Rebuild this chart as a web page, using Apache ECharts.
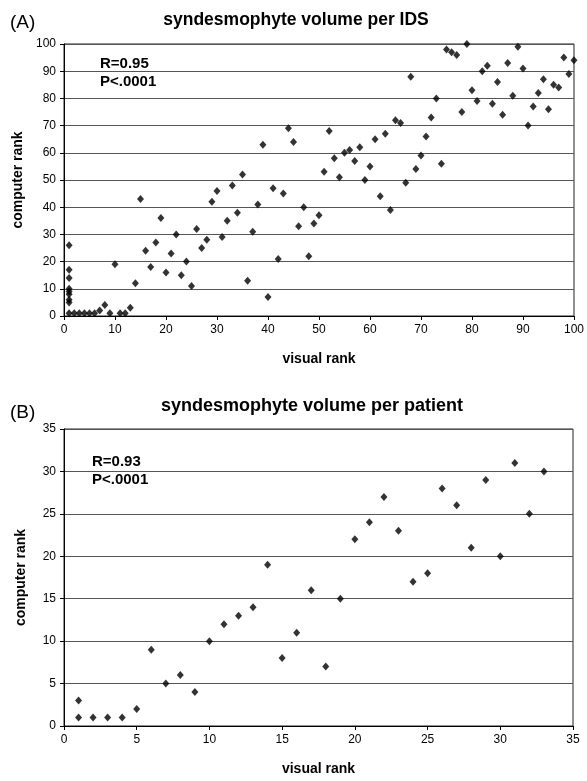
<!DOCTYPE html>
<html>
<head>
<meta charset="utf-8">
<script src="https://cdn.jsdelivr.net/npm/echarts@6/dist/echarts.min.js"></script>
<style>
  html,body{margin:0;padding:0;background:#fff;}
  #chart_wrap{width:587px;height:781px;}
</style>
</head>
<body>
<div id="chart_wrap"></div>
<script>
// (A) per IDS
var idsVisual=[1,1,1,1,1,1,1,1,1,
  2,3,4,5,6,7,8,9,10,11,12,13,14,15,16,17,18,19,20,
  21,22,23,24,25,26,27,28,29,30,31,32,33,34,35,36,37,38,39,40,
  41,42,43,44,45,46,47,48,49,50,51,52,53,54,55,56,57,58,59,60,
  61,62,63,64,65,66,67,68,69,70,71,72,73,74,75,76,77,78,79,80,
  81,82,83,84,85,86,87,88,89,90,91,92,93,94,95,96,97,98,99,100];
var idsComputer=[26,17,14,10,9,8,6,5,1,
  1,1,1,1,1,2,4,1,19,1,1,3,12,43,24,18,27,36,16,
  23,30,15,20,11,32,25,28,42,46,29,35,48,38,52,13,31,41,63,7,
  47,21,45,69,64,33,40,22,34,37,53,68,58,51,60,61,57,62,50,55,
  65,44,67,39,72,71,49,88,54,59,66,73,80,56,98,97,96,75,100,83,
  79,90,92,78,86,74,93,81,99,91,70,77,82,87,76,85,84,95,89,94];

// (B) per patient
var patientVisual=[1,1,2,3,4,5,6,7,8,9,10,11,12,13,14,15,16,17,18,19,20,
  21,22,23,24,25,26,27,28,29,30,31,32,33];
var patientComputer=[3,1,1,1,1,2,9,5,6,4,10,12,13,14,19,8,11,16,7,15,22,
  24,27,23,17,18,28,26,21,29,20,31,25,30];

var toPairs=function(xs,ys){
  return xs.map(function(v,i){ return [v,ys[i]]; });
};

var font='"Liberation Sans", Arial, sans-serif';
var objEcharts=echarts.init(document.getElementById('chart_wrap'));

var mkX=function(idx,max,interval){
  return {
    type:'value', gridIndex:idx, min:0, max:max, interval:interval,
    name:'visual rank', nameLocation:'middle', nameGap:36,
    nameTextStyle:{fontFamily:font,fontSize:14,fontWeight:'bold',color:'#000'},
    axisLine:{show:true,onZero:false,lineStyle:{color:'#000',width:1}},
    axisTick:{show:true,length:4,lineStyle:{color:'#000'}},
    axisLabel:{fontFamily:font,fontSize:12,color:'#000',margin:8},
    splitLine:{show:false}
  };
};
var mkY=function(idx,max,interval){
  return {
    type:'value', gridIndex:idx, min:0, max:max, interval:interval,
    name:'computer rank', nameLocation:'middle', nameGap:36,
    nameTextStyle:{fontFamily:font,fontSize:14,fontWeight:'bold',color:'#000'},
    axisLine:{show:true,onZero:false,lineStyle:{color:'#000',width:1}},
    axisTick:{show:true,length:4,lineStyle:{color:'#000'}},
    axisLabel:{fontFamily:font,fontSize:12,color:'#000',margin:8},
    splitLine:{show:true,lineStyle:{color:'#555',width:1}}
  };
};

var option={
  animation:false,
  textStyle:{fontFamily:font},
  grid:[
    {left:64,top:44,width:510,height:272,show:true,borderColor:'#222',borderWidth:1},
    {left:64,top:429,width:509,height:297,show:true,borderColor:'#222',borderWidth:1}
  ],
  xAxis:[mkX(0,100,10),mkX(1,35,5)],
  yAxis:[mkY(0,100,10),mkY(1,35,5)],
  graphic:[
    {type:'text',x:10,y:23,style:{text:'(A)',font:'19px '+font,fill:'#000',verticalAlign:'middle'}},
    {type:'text',x:296,y:20,style:{text:'syndesmophyte volume per IDS',font:'bold 17.5px '+font,fill:'#000',align:'center',verticalAlign:'middle'}},
    {type:'text',x:100,y:64,style:{text:'R=0.95',font:'bold 15px '+font,fill:'#000',verticalAlign:'middle'}},
    {type:'text',x:100,y:82,style:{text:'P<.0001',font:'bold 15px '+font,fill:'#000',verticalAlign:'middle'}},
    {type:'text',x:10,y:413,style:{text:'(B)',font:'19px '+font,fill:'#000',verticalAlign:'middle'}},
    {type:'text',x:312,y:406,style:{text:'syndesmophyte volume per patient',font:'bold 18px '+font,fill:'#000',align:'center',verticalAlign:'middle'}},
    {type:'text',x:92,y:462,style:{text:'R=0.93',font:'bold 15px '+font,fill:'#000',verticalAlign:'middle'}},
    {type:'text',x:92,y:480,style:{text:'P<.0001',font:'bold 15px '+font,fill:'#000',verticalAlign:'middle'}}
  ],
  series:[
    {
      type:'scatter', xAxisIndex:0, yAxisIndex:0,
      symbol:'diamond', symbolSize:[7,8],
      itemStyle:{color:'#000'},
      data:toPairs(idsVisual,idsComputer)
    },
    {
      type:'scatter', xAxisIndex:1, yAxisIndex:1,
      symbol:'diamond', symbolSize:[7,8],
      itemStyle:{color:'#000'},
      data:toPairs(patientVisual,patientComputer)
    }
  ]
};

objEcharts.setOption(option);
</script>
</body>
</html>
